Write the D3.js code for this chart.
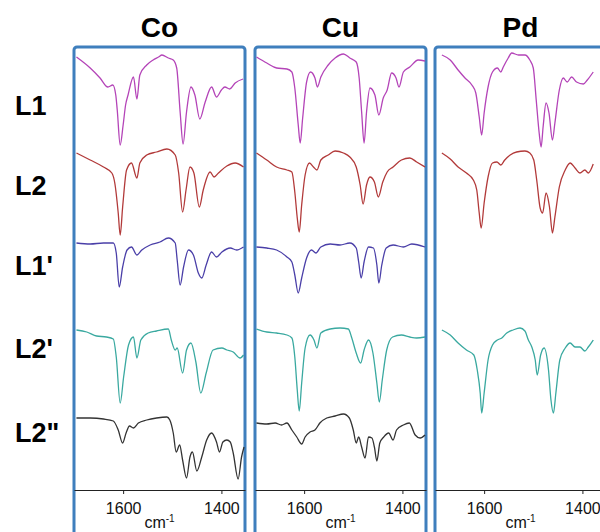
<!DOCTYPE html>
<html><head><meta charset="utf-8">
<script src="https://cdn.jsdelivr.net/npm/d3@7/dist/d3.min.js"></script>
<style>html,body{margin:0;padding:0;background:#fff;} svg{display:block;}</style>
</head><body>
<svg id="chart" width="600" height="532"></svg>
<script>
// ---- data ----
const metals = ["Co", "Cu", "Pd"];
const ligands = ["L1", "L2", "L1'", "L2'", "L2\""];
const tickValues = [1600, 1400];
const axisTitle = "cm";
const axisTitleSup = "-1";
// vertical offset of each stacked trace (a.u.)
const rowOffsets = [330, 240, 190, 70, 0];
const traceColors = ["#b444b8", "#b23a3a", "#4a3fa8", "#3aa9a0", "#333333"];

// spectra: [wavenumber (cm-1), transmittance (a.u.)]
const coL1 = [[1695,103],[1667,92],[1647,82],[1631,73],[1621,75],[1615,65],[1612,50],[1606,15],[1600,35],[1595,55],[1590,65],[1579,83],[1572,61],[1566,85],[1552,95],[1539,100],[1528,103],[1521,105],[1508,102],[1498,100],[1491,92],[1484,48],[1478,16],[1471,48],[1462,73],[1454,65],[1444,41],[1433,58],[1420,73],[1410,63],[1400,70],[1393,73],[1383,71],[1372,77],[1356,81]];
const coL2 = [[1695,97],[1667,90],[1640,83],[1623,77],[1617,67],[1610,37],[1606,15],[1601,43],[1593,80],[1583,87],[1572,72],[1566,87],[1552,95],[1532,98],[1511,101],[1494,95],[1487,77],[1479,38],[1472,60],[1464,83],[1456,77],[1445,43],[1437,60],[1423,78],[1415,73],[1406,77],[1389,84],[1372,87],[1355,83]];
const coL1p = [[1695,57],[1667,56],[1640,57],[1620,57],[1614,47],[1608,13],[1601,33],[1592,50],[1583,53],[1572,45],[1562,50],[1545,55],[1525,58],[1508,62],[1494,57],[1490,40],[1484,15],[1477,33],[1467,50],[1457,45],[1447,27],[1440,22],[1431,35],[1420,48],[1410,43],[1399,48],[1382,52],[1369,50],[1355,53]];
const coL2p = [[1695,90],[1674,88],[1654,84],[1634,83],[1620,81],[1614,63],[1606,17],[1599,43],[1589,75],[1579,83],[1572,62],[1564,80],[1549,87],[1532,89],[1508,91],[1502,80],[1494,70],[1490,72],[1479,47],[1471,70],[1462,77],[1452,58],[1442,27],[1431,47],[1417,70],[1399,72],[1389,70],[1376,68],[1362,62],[1355,65]];
const coL2pp = [[1695,72],[1667,72],[1640,71],[1620,69],[1610,60],[1601,47],[1594,57],[1587,64],[1579,62],[1569,67],[1552,70],[1532,72],[1511,73],[1505,70],[1498,57],[1492,38],[1485,45],[1479,30],[1471,12],[1464,33],[1459,38],[1450,19],[1440,33],[1430,50],[1420,57],[1410,48],[1404,38],[1397,48],[1389,50],[1382,48],[1376,37],[1366,11],[1359,33],[1354,43]];

const cuL1 = [[1697,103],[1676,97],[1656,92],[1635,91],[1625,88],[1619,72],[1612,35],[1608,17],[1603,42],[1595,78],[1587,88],[1578,82],[1573,73],[1566,83],[1551,95],[1537,102],[1520,106],[1507,102],[1494,98],[1488,82],[1483,48],[1478,17],[1473,48],[1466,72],[1456,65],[1448,45],[1439,62],[1431,70],[1422,87],[1413,82],[1407,73],[1398,88],[1385,93],[1368,100],[1354,99]];
const cuL2 = [[1697,97],[1676,90],[1656,83],[1635,80],[1625,78],[1619,58],[1614,32],[1610,18],[1605,45],[1598,75],[1589,87],[1581,83],[1574,80],[1566,90],[1551,95],[1537,99],[1520,97],[1507,93],[1494,83],[1486,65],[1480,46],[1473,65],[1466,73],[1457,68],[1449,53],[1440,68],[1431,78],[1419,83],[1402,90],[1385,92],[1371,88],[1354,83]];
const cuL1p = [[1697,53],[1676,52],[1656,50],[1635,43],[1625,38],[1619,25],[1612,7],[1605,22],[1595,42],[1585,50],[1576,47],[1566,53],[1547,56],[1527,55],[1507,57],[1494,52],[1489,38],[1484,22],[1478,38],[1469,53],[1459,52],[1452,35],[1448,17],[1442,35],[1433,52],[1419,55],[1398,53],[1381,56],[1354,53]];
const cuL2p = [[1697,91],[1676,88],[1656,87],[1635,85],[1625,82],[1619,63],[1614,30],[1610,9],[1605,37],[1598,72],[1588,85],[1580,80],[1574,72],[1566,87],[1547,91],[1527,92],[1510,91],[1503,82],[1494,67],[1485,57],[1478,70],[1469,80],[1460,67],[1452,37],[1447,18],[1441,40],[1432,70],[1420,83],[1402,85],[1385,83],[1371,82],[1354,83]];
const cuL2pp = [[1697,67],[1676,66],[1659,67],[1646,65],[1635,67],[1625,60],[1615,53],[1605,46],[1598,53],[1588,58],[1578,60],[1568,67],[1554,72],[1537,74],[1520,76],[1508,72],[1500,60],[1494,47],[1489,53],[1483,43],[1476,32],[1469,53],[1462,52],[1457,43],[1452,29],[1446,47],[1438,53],[1428,57],[1419,50],[1412,60],[1398,65],[1386,67],[1374,55],[1364,52],[1354,55]];

const pdL1 = [[1686,105],[1669,100],[1653,90],[1639,82],[1625,75],[1617,67],[1610,43],[1605,25],[1600,47],[1592,73],[1583,88],[1573,92],[1566,88],[1561,93],[1551,102],[1544,107],[1530,105],[1517,105],[1507,100],[1500,92],[1494,60],[1488,27],[1484,13],[1480,33],[1474,57],[1468,47],[1461,20],[1456,37],[1447,70],[1439,82],[1431,78],[1422,83],[1412,78],[1398,76],[1390,80],[1378,88]];
const pdL2 = [[1686,97],[1669,91],[1653,83],[1636,77],[1622,70],[1615,60],[1610,37],[1606,22],[1600,47],[1592,73],[1583,87],[1574,88],[1566,85],[1558,90],[1547,95],[1534,98],[1517,99],[1507,97],[1499,90],[1493,70],[1486,42],[1481,37],[1474,57],[1467,43],[1461,17],[1456,33],[1447,63],[1435,80],[1425,87],[1415,82],[1405,77],[1395,80],[1388,77],[1378,86]];
const pdL2p = [[1686,90],[1669,85],[1653,77],[1636,70],[1621,65],[1614,50],[1608,27],[1605,7],[1600,27],[1592,60],[1583,75],[1573,80],[1564,82],[1554,87],[1541,90],[1527,92],[1517,89],[1510,80],[1503,73],[1496,60],[1492,45],[1485,65],[1478,72],[1469,50],[1464,20],[1459,7],[1454,27],[1446,60],[1435,72],[1425,77],[1415,73],[1405,73],[1395,69],[1388,73],[1378,80]];

const panelSpectra = [
  [coL1, coL2, coL1p, coL2p, coL2pp],
  [cuL1, cuL2, cuL1p, cuL2p, cuL2pp],
  [pdL1, pdL2, null, pdL2p, null]
];

// ---- layout ----
const panelLeft = [74, 255, 435];
const panelW = 171;
const panelTop = 47;
const axisY = 490;
const font = "'Liberation Sans', Arial, Helvetica, sans-serif";

const svg = d3.select("#chart");
const y = d3.scaleLinear().domain([0, 443]).range([axisY, panelTop]);

// titles
svg.selectAll("text.title").data(metals).join("text")
  .attr("class", "title")
  .attr("x", (d, i) => panelLeft[i] + panelW / 2)
  .attr("y", 37)
  .attr("text-anchor", "middle")
  .attr("font-family", font).attr("font-weight", "bold").attr("font-size", 28)
  .attr("fill", "#000").text(d => d);

// row labels
const labelBaselines = [115, 195, 275, 358, 442];
svg.selectAll("text.rowlab").data(ligands).join("text")
  .attr("class", "rowlab")
  .attr("x", 15).attr("y", (d, i) => labelBaselines[i])
  .attr("font-family", font).attr("font-weight", "bold").attr("font-size", 27)
  .attr("fill", "#000").text(d => d);

metals.forEach((m, p) => {
  const x0 = panelLeft[p];
  const x = d3.scaleLinear().domain([1700, 1352]).range([x0, x0 + panelW]);
  const g = svg.append("g");

  // panel frame
  g.append("rect")
    .attr("x", x0).attr("y", panelTop)
    .attr("width", panelW).attr("height", 520)
    .attr("rx", 3)
    .attr("fill", "none").attr("stroke", "#3f7fbd").attr("stroke-width", 3);

  // axis
  const ax = g.append("g").attr("transform", `translate(0,${axisY})`)
    .call(d3.axisBottom(x).tickValues(tickValues).tickSize(4).tickSizeOuter(0).tickFormat(d3.format("d")));
  ax.select(".domain").attr("stroke", "#222").attr("stroke-width", 1.2);
  ax.selectAll(".tick line").attr("stroke", "#222");
  ax.selectAll(".tick text").attr("font-family", font).attr("font-size", 16)
    .attr("fill", "#111").attr("dy", "1.05em");

  const t = g.append("text")
    .attr("x", x0 + panelW / 2).attr("y", 528)
    .attr("text-anchor", "middle")
    .attr("font-family", font).attr("font-size", 16).attr("fill", "#111");
  t.append("tspan").text(axisTitle);
  t.append("tspan").attr("dy", -6).attr("font-size", 10).text(axisTitleSup);

  // spectra
  const line = d3.line()
    .x(d => x(d[0]))
    .curve(d3.curveMonotoneX);
  panelSpectra[p].forEach((s, r) => {
    if (!s) return;
    g.append("path")
      .attr("d", line.y(d => y(rowOffsets[r] + d[1]))(s))
      .attr("fill", "none")
      .attr("stroke", traceColors[r])
      .attr("stroke-width", 1.3)
      .attr("stroke-linejoin", "round");
  });
});
</script>
</body></html>
